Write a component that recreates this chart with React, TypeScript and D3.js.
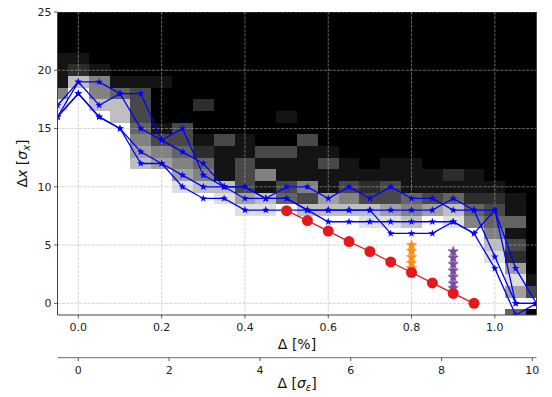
import * as d3 from "d3";

// column centres of the heat map (Δ in %), one per 0.05 bin
const colX = [-0.05, 0, 0.05, 0.1, 0.15, 0.2, 0.25, 0.3, 0.35, 0.4, 0.45, 0.5, 0.55, 0.6, 0.65, 0.7, 0.75, 0.8, 0.85, 0.9, 0.95, 1.0, 1.05, 1.1];
// row centres (Δx in σx), top to bottom
const rowY = [25, 24, 23, 22, 21, 20, 19, 18, 17, 16, 15, 14, 13, 12, 11, 10, 9, 8, 7, 6, 5, 4, 3, 2, 1, 0, -1];
// grey level per cell, 0 = black .. 9 = white
const heatRows = [
  "000000000000000000000000",
  "000000000000000000000000",
  "000000000000000000000000",
  "000000000000000000000000",
  "110000000000000000000000",
  "121000000000000000000000",
  "175111000000000000000000",
  "595430000000000000000000",
  "897730020000000000000000",
  "999730000001000000000000",
  "999941300000000000000000",
  "999953313100300000000000",
  "999965421133110000000000",
  "999976541311131011000000",
  "999999651351111111121000",
  "999999877313513231111100",
  "999999998674365334342210",
  "999999999889777765674310",
  "999999999999999887985440",
  "999999999999999999999510",
  "999999999999999999999730",
  "999999999999999999999820",
  "999999999999999999999960",
  "999999999999999999999981",
  "999999999999999999999963",
  "999999999999999999999999",
  "999999999999999999999940",
];

// blue star curves, one value per column centre
const blue1 = [17, 19, 19, 18, 18, 14, 15, 11, 10, 10, 9, 10, 10, 9, 10, 9, 10, 9, 9, 8, 8, 8, 3, 0];
const blue2 = [16, 19, 17, 18, 15, 14, 13, 12, 10, 9, 9, 9, 8, 7, 7, 7, 7, 7, 7, 7, 6, 8, 0, 0];
const blue3 = [16, 18, 16, 15, 13, 12, 11, 10, 10, 10, 9, 9, 8, 8, 8, 8, 8, 8, 8, 9, 8, 4, 0, 0];
const blue4 = [16, 18, 16, 15, 12, 12, 10, 9, 9, 8, 8, 8, 8, 8, 8, 8, 6, 6, 6, 7, 6, 3, -1, 0];

const redX = [0.5, 0.55, 0.6, 0.65, 0.7, 0.75, 0.8, 0.85, 0.9, 0.95];
const redY = [7.95, 7.1, 6.2, 5.3, 4.45, 3.55, 2.65, 1.75, 0.85, 0.0];

const orangeX = 0.8;
const orangeY = [2.6, 3.0, 3.45, 3.95, 4.5, 5.0];
const purpleX = 0.9;
const purpleY = [0.9, 1.3, 1.7, 2.25, 2.8, 3.35, 3.9, 4.45];

const xTicks = [0, 0.2, 0.4, 0.6, 0.8, 1.0];
const yTicks = [0, 5, 10, 15, 20, 25];
const sTicks = [0, 2, 4, 6, 8, 10];
const sigmaPct = 0.109;

const L = 57.5, R = 536.5, T = 12, B = 315;

function starPath(r: number) {
  const pts: string[] = [];
  for (let k = 0; k < 10; k++) {
    const a = -Math.PI / 2 + (k * Math.PI) / 5;
    const rr = k % 2 === 0 ? r : r * 0.4;
    pts.push(`${(rr * Math.cos(a)).toFixed(2)},${(rr * Math.sin(a)).toFixed(2)}`);
  }
  return "M" + pts.join("L") + "Z";
}

export default function App() {
  const x = d3.scaleLinear().domain([-0.05, 1.1]).range([L, R]);
  const y = d3.scaleLinear().domain([-1, 25]).range([B, T]);
  const xs = d3.scaleLinear().domain([-0.05 / sigmaPct, 1.1 / sigmaPct]).range([L, R]);
  const grey = d3.scalePow().exponent(1.15).domain([0, 9]).range([0, 255]);

  const line = d3
    .line<[number, number]>()
    .x((d) => x(d[0]))
    .y((d) => y(d[1]));

  const blues = [blue1, blue2, blue3, blue4].map((s) => s.map((v, i) => [colX[i], v] as [number, number]));
  const red = redX.map((v, i) => [v, redY[i]] as [number, number]);

  const smallStar = starPath(4);
  const bigStar = starPath(5.5);
  const font = "DejaVu Sans, sans-serif";

  return (
    <svg width={552} height={397} style={{ position: "absolute", left: 0, top: 0 }} fontFamily={font}>
      <rect width={552} height={397} fill="white" />
      <defs>
        <clipPath id="plot">
          <rect x={L} y={T} width={R - L} height={B - T} />
        </clipPath>
      </defs>

      <g clipPath="url(#plot)">
        {heatRows.map((row, ri) =>
          row.split("").map((ch, ci) => {
            const g = Math.round(grey(+ch));
            const x0 = x(colX[ci] - 0.025);
            const x1 = x(colX[ci] + 0.025);
            const y0 = y(rowY[ri] + 0.5);
            const y1 = y(rowY[ri] - 0.5);
            return (
              <rect
                key={`${ri}-${ci}`}
                x={x0}
                y={y0}
                width={x1 - x0 + 0.3}
                height={y1 - y0 + 0.3}
                fill={`rgb(${g},${g},${g})`}
                shapeRendering="crispEdges"
              />
            );
          })
        )}

        {/* grid */}
        {xTicks.map((t) => (
          <line key={"gx" + t} x1={x(t)} x2={x(t)} y1={T} y2={B} stroke="#b2b2b2" strokeOpacity={0.72} strokeWidth={0.8} strokeDasharray="3,1.3" />
        ))}
        {yTicks.map((t) => (
          <line key={"gy" + t} x1={L} x2={R} y1={y(t)} y2={y(t)} stroke="#b2b2b2" strokeOpacity={0.72} strokeWidth={0.8} strokeDasharray="3,1.3" />
        ))}

        {blues.map((pts, i) => (
          <g key={"b" + i}>
            <path d={line(pts) ?? ""} fill="none" stroke="#0000ff" strokeWidth={1.3} />
            {pts.map((p, j) => (
              <path key={j} d={smallStar} transform={`translate(${x(p[0])},${y(p[1])})`} fill="#0000ff" />
            ))}
          </g>
        ))}

        {orangeY.map((v, i) => (
          <path key={"o" + i} d={bigStar} transform={`translate(${x(orangeX)},${y(v)})`} fill="#ff8c10" stroke="#ff8c10" strokeWidth={0.5} />
        ))}
        {purpleY.map((v, i) => (
          <path key={"p" + i} d={bigStar} transform={`translate(${x(purpleX)},${y(v)})`} fill="#7a4b9e" stroke="#7a4b9e" strokeWidth={0.5} />
        ))}

        <path d={line(red) ?? ""} fill="none" stroke="#e31a1c" strokeWidth={1.3} />
        {red.map((p, i) => (
          <circle key={"r" + i} cx={x(p[0])} cy={y(p[1])} r={5.5} fill="#e31a1c" />
        ))}
      </g>

      {/* spines */}
      <line x1={L} x2={L} y1={T} y2={B} stroke="#444" strokeWidth={1} />
      <line x1={L} x2={R} y1={B} y2={B} stroke="#444" strokeWidth={1} />
      <line x1={R} x2={R} y1={T} y2={B} stroke="#444" strokeWidth={1} />

      {/* primary x axis */}
      {xTicks.map((t) => (
        <g key={"xt" + t}>
          <line x1={x(t)} x2={x(t)} y1={B} y2={B + 3.5} stroke="#333" strokeWidth={0.8} />
          <text x={x(t)} y={330.5} textAnchor="middle" fontSize={11} fill="#222">
            {t.toFixed(1)}
          </text>
        </g>
      ))}
      <text x={(L + R) / 2} y={349} textAnchor="middle" fontSize={14} fill="#111">
        Δ [%]
      </text>

      {/* y axis */}
      {yTicks.map((t) => (
        <g key={"yt" + t}>
          <line x1={L - 3.5} x2={L} y1={y(t)} y2={y(t)} stroke="#333" strokeWidth={0.8} />
          <text x={51.5} y={y(t)} dy="0.36em" textAnchor="end" fontSize={11} fill="#222">
            {t}
          </text>
        </g>
      ))}
      <text transform={`translate(27,${(T + B) / 2}) rotate(-90)`} textAnchor="middle" fontSize={14} fill="#111">
        Δ<tspan fontStyle="italic">x</tspan> [<tspan fontStyle="italic">σ</tspan>
        <tspan fontStyle="italic" fontSize={10} dy={3}>x</tspan>
        <tspan dy={-3}>]</tspan>
      </text>

      {/* secondary x axis in σε */}
      <line x1={L} x2={R} y1={357.7} y2={357.7} stroke="#888" strokeWidth={1.2} />
      {sTicks.map((t) => (
        <g key={"st" + t}>
          <line x1={xs(t)} x2={xs(t)} y1={357.7} y2={361.2} stroke="#333" strokeWidth={0.8} />
          <text x={xs(t)} y={374} textAnchor="middle" fontSize={11} fill="#222">
            {t}
          </text>
        </g>
      ))}
      <text x={(L + R) / 2} y={388} textAnchor="middle" fontSize={14} fill="#111">
        Δ [<tspan fontStyle="italic">σ</tspan>
        <tspan fontStyle="italic" fontSize={10} dy={3}>ε</tspan>
        <tspan dy={-3}>]</tspan>
      </text>
    </svg>
  );
}
